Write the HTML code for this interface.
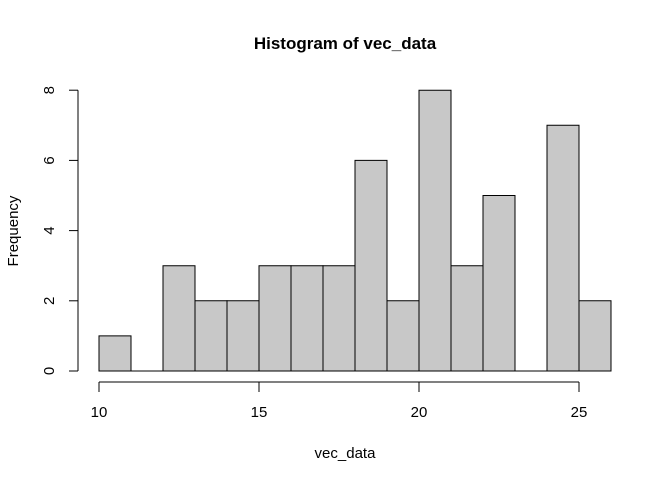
<!DOCTYPE html>
<html><head><meta charset="utf-8"><style>
html,body{margin:0;padding:0;background:#fff;}
svg{display:block;font-family:"Liberation Sans",Arial,sans-serif;}
</style></head><body>
<svg id="chart" width="672" height="480" viewBox="0 0 672 480" xmlns="http://www.w3.org/2000/svg">
<text x="345" y="49" text-anchor="middle" font-size="17" font-weight="bold">Histogram of vec_data</text>
<text x="345" y="458" text-anchor="middle" font-size="15">vec_data</text>
<text transform="translate(18,231) rotate(-90)" text-anchor="middle" font-size="15">Frequency</text>
<g id="bars"></g>
<g id="xaxis"></g>
<g id="yaxis"></g>
</svg>
<script>
const binStarts = [10,11,12,13,14,15,16,17,18,19,20,21,22,23,24,25];
const counts = [1,0,3,2,2,3,3,3,6,2,8,3,5,0,7,2];
const binWidth = 1;
const xTicks = [10,15,20,25];
const yTicks = [0,2,4,6,8];

const NS = "http://www.w3.org/2000/svg";
const xs = v => 99 + (v - 10) * 32;
const ys = v => 371 - v * 35.1;
function mk(tag, attrs, parent) {
  const e = document.createElementNS(NS, tag);
  for (const k in attrs) e.setAttribute(k, attrs[k]);
  parent.appendChild(e);
  return e;
}
const bars = document.getElementById('bars');
binStarts.forEach((b, i) => {
  const x0 = xs(b), x1 = xs(b + binWidth), y0 = ys(0), y1 = ys(counts[i]);
  const d = 'M' + x0 + ',' + y0 + 'L' + x0 + ',' + y1 + 'L' + x1 + ',' + y1 + 'L' + x1 + ',' + y0 + 'Z';
  const r = mk('path', {d: d, fill: '#c8c8c8', stroke: '#000', 'stroke-width': 1}, bars);
  
  
});
const xa = document.getElementById('xaxis');
mk('line', {x1: xs(xTicks[0]), x2: xs(xTicks[xTicks.length - 1]), y1: 382, y2: 382, stroke: '#000'}, xa);
xTicks.forEach(t => {
  mk('line', {x1: xs(t), x2: xs(t), y1: 382, y2: 392, stroke: '#000'}, xa);
  const tx = mk('text', {x: xs(t), y: 417, 'text-anchor': 'middle', 'font-size': 15}, xa);
  tx.textContent = t;
  
  
});
const ya = document.getElementById('yaxis');
mk('line', {x1: 78, x2: 78, y1: ys(yTicks[0]), y2: ys(yTicks[yTicks.length - 1]), stroke: '#000'}, ya);
yTicks.forEach(t => {
  mk('line', {x1: 69, x2: 78, y1: ys(t), y2: ys(t), stroke: '#000'}, ya);
  const tx = mk('text', {transform: 'translate(54,' + ys(t) + ') rotate(-90)', 'text-anchor': 'middle', 'font-size': 15}, ya);
  tx.textContent = t;
  
  
});
</script>
</body></html>
